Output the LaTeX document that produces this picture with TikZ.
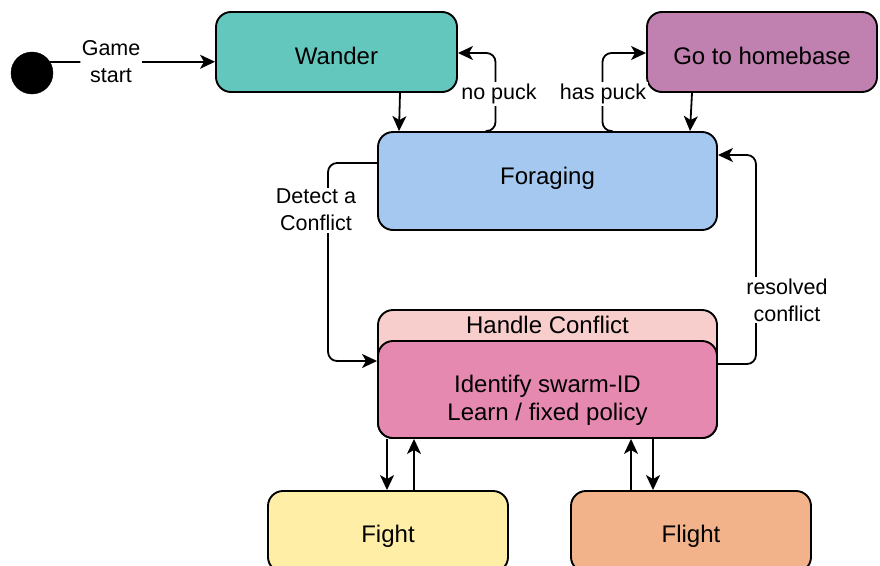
\documentclass[tikz,border=0pt]{standalone}
\usepackage{fontspec}
\setmainfont{Liberation Sans}
\usetikzlibrary{arrows.meta}
\definecolor{cwander}{HTML}{64C7BD}
\definecolor{chome}{HTML}{C080B0}
\definecolor{cforage}{HTML}{A4C8F0}
\definecolor{cheader}{HTML}{F8CECC}
\definecolor{cbody}{HTML}{E589B0}
\definecolor{cfight}{HTML}{FFEFA6}
\definecolor{cflight}{HTML}{F3B38A}
\newcommand{\nodefont}{\fontsize{24}{28}\selectfont}
\newcommand{\lblfont}{\fontsize{21.5}{27}\selectfont}
\tikzset{
  stbox/.style={draw=black, line width=1.9pt, rounded corners=15pt, font=\nodefont,
    inner sep=0pt, text depth=0pt},
  conn/.style={line width=1.8pt, rounded corners=9pt,
    -{Stealth[length=15pt, width=14pt, inset=4pt]}},
  lbl/.style={fill=white, font=\lblfont, align=center, inner sep=1.5pt}
}
\begin{document}
\begin{tikzpicture}[x=1pt, y=-1pt]
\useasboundingbox (0,0) rectangle (880,565);

% initial state
\node[circle, fill=black, draw=black, minimum size=42pt, inner sep=0pt] (init) at (32,73) {};

% states
\node[stbox, fill=cwander, minimum width=241pt, minimum height=80pt, text height=25.2pt] (wander) at (336.5,52) {Wander};
\node[stbox, fill=chome, minimum width=230pt, minimum height=80pt, text height=25.2pt] (home) at (762,52) {Go to homebase};
\node[stbox, fill=cforage, minimum width=339pt, minimum height=98pt, text height=7.2pt] (forage) at (547.5,181) {Foraging};

% handle conflict (header + body)
\node[stbox, fill=cheader, minimum width=339pt, minimum height=128pt] (handle) at (547.5,374) {};
\node[stbox, fill=cbody, minimum width=339pt, minimum height=97pt] (body) at (547.5,389.5) {};
\node[font=\nodefont, inner sep=0pt, text height=17.2pt, text depth=0pt] (header) at (547.5,325) {Handle Conflict};
\node[font=\nodefont, align=center, inner sep=0pt] (bodytext) at (547.5,400) {Identify swarm-ID\\Learn / fixed policy};

\node[stbox, fill=cfight, minimum width=240pt, minimum height=81pt, text height=21.2pt] (fight) at (388,531.5) {Fight};
\node[stbox, fill=cflight, minimum width=240pt, minimum height=81pt, text height=21.2pt] (flight) at (691,531.5) {Flight};

% connectors
\draw[conn] (init.32) -- node[lbl, pos=0.37] (lgame) {Game\\start} (init.32 -| wander.west);
\draw[conn] ([xshift=63.5pt]wander.south) -- ([xshift=-148.5pt]forage.north);
\draw[conn] ([xshift=-62pt]forage.north) -- ++(10,0) |- ([yshift=-1pt]wander.east);
\draw[conn] ([xshift=65pt]forage.north) -- ++(-10,0) |- ([yshift=-1pt]home.west);
\draw[conn] ([xshift=-70pt]home.south) -- ([xshift=142.5pt]forage.north);
\draw[conn] ([yshift=25.5pt]body.east) -- ++(38,0) |- ([yshift=26pt]forage.east);
\draw[conn] ([yshift=18pt]forage.west) -- ++(-49,0) |- ([yshift=13pt]handle.west);
\draw[conn] ([xshift=-160.5pt]body.south) -- ([xshift=-1pt]fight.north);
\draw[conn] ([xshift=26pt]fight.north) -- ([xshift=-133.5pt]body.south);
\draw[conn] ([xshift=-60pt]flight.north) -- ([xshift=83.5pt]body.south);
\draw[conn] ([xshift=105.5pt]body.south) -- ([xshift=-38pt]flight.north);

% labels
\node[lbl] (lnopuck) at (499,94) {no puck};
\node[lbl] (lhaspuck) at (603,94) {has puck};
\node[lbl] (lresolved) at (787,300) {resolved\\conflict};
\node[lbl] (ldetect) at (316,210) {Detect a\\Conflict};
\end{tikzpicture}
\end{document}
